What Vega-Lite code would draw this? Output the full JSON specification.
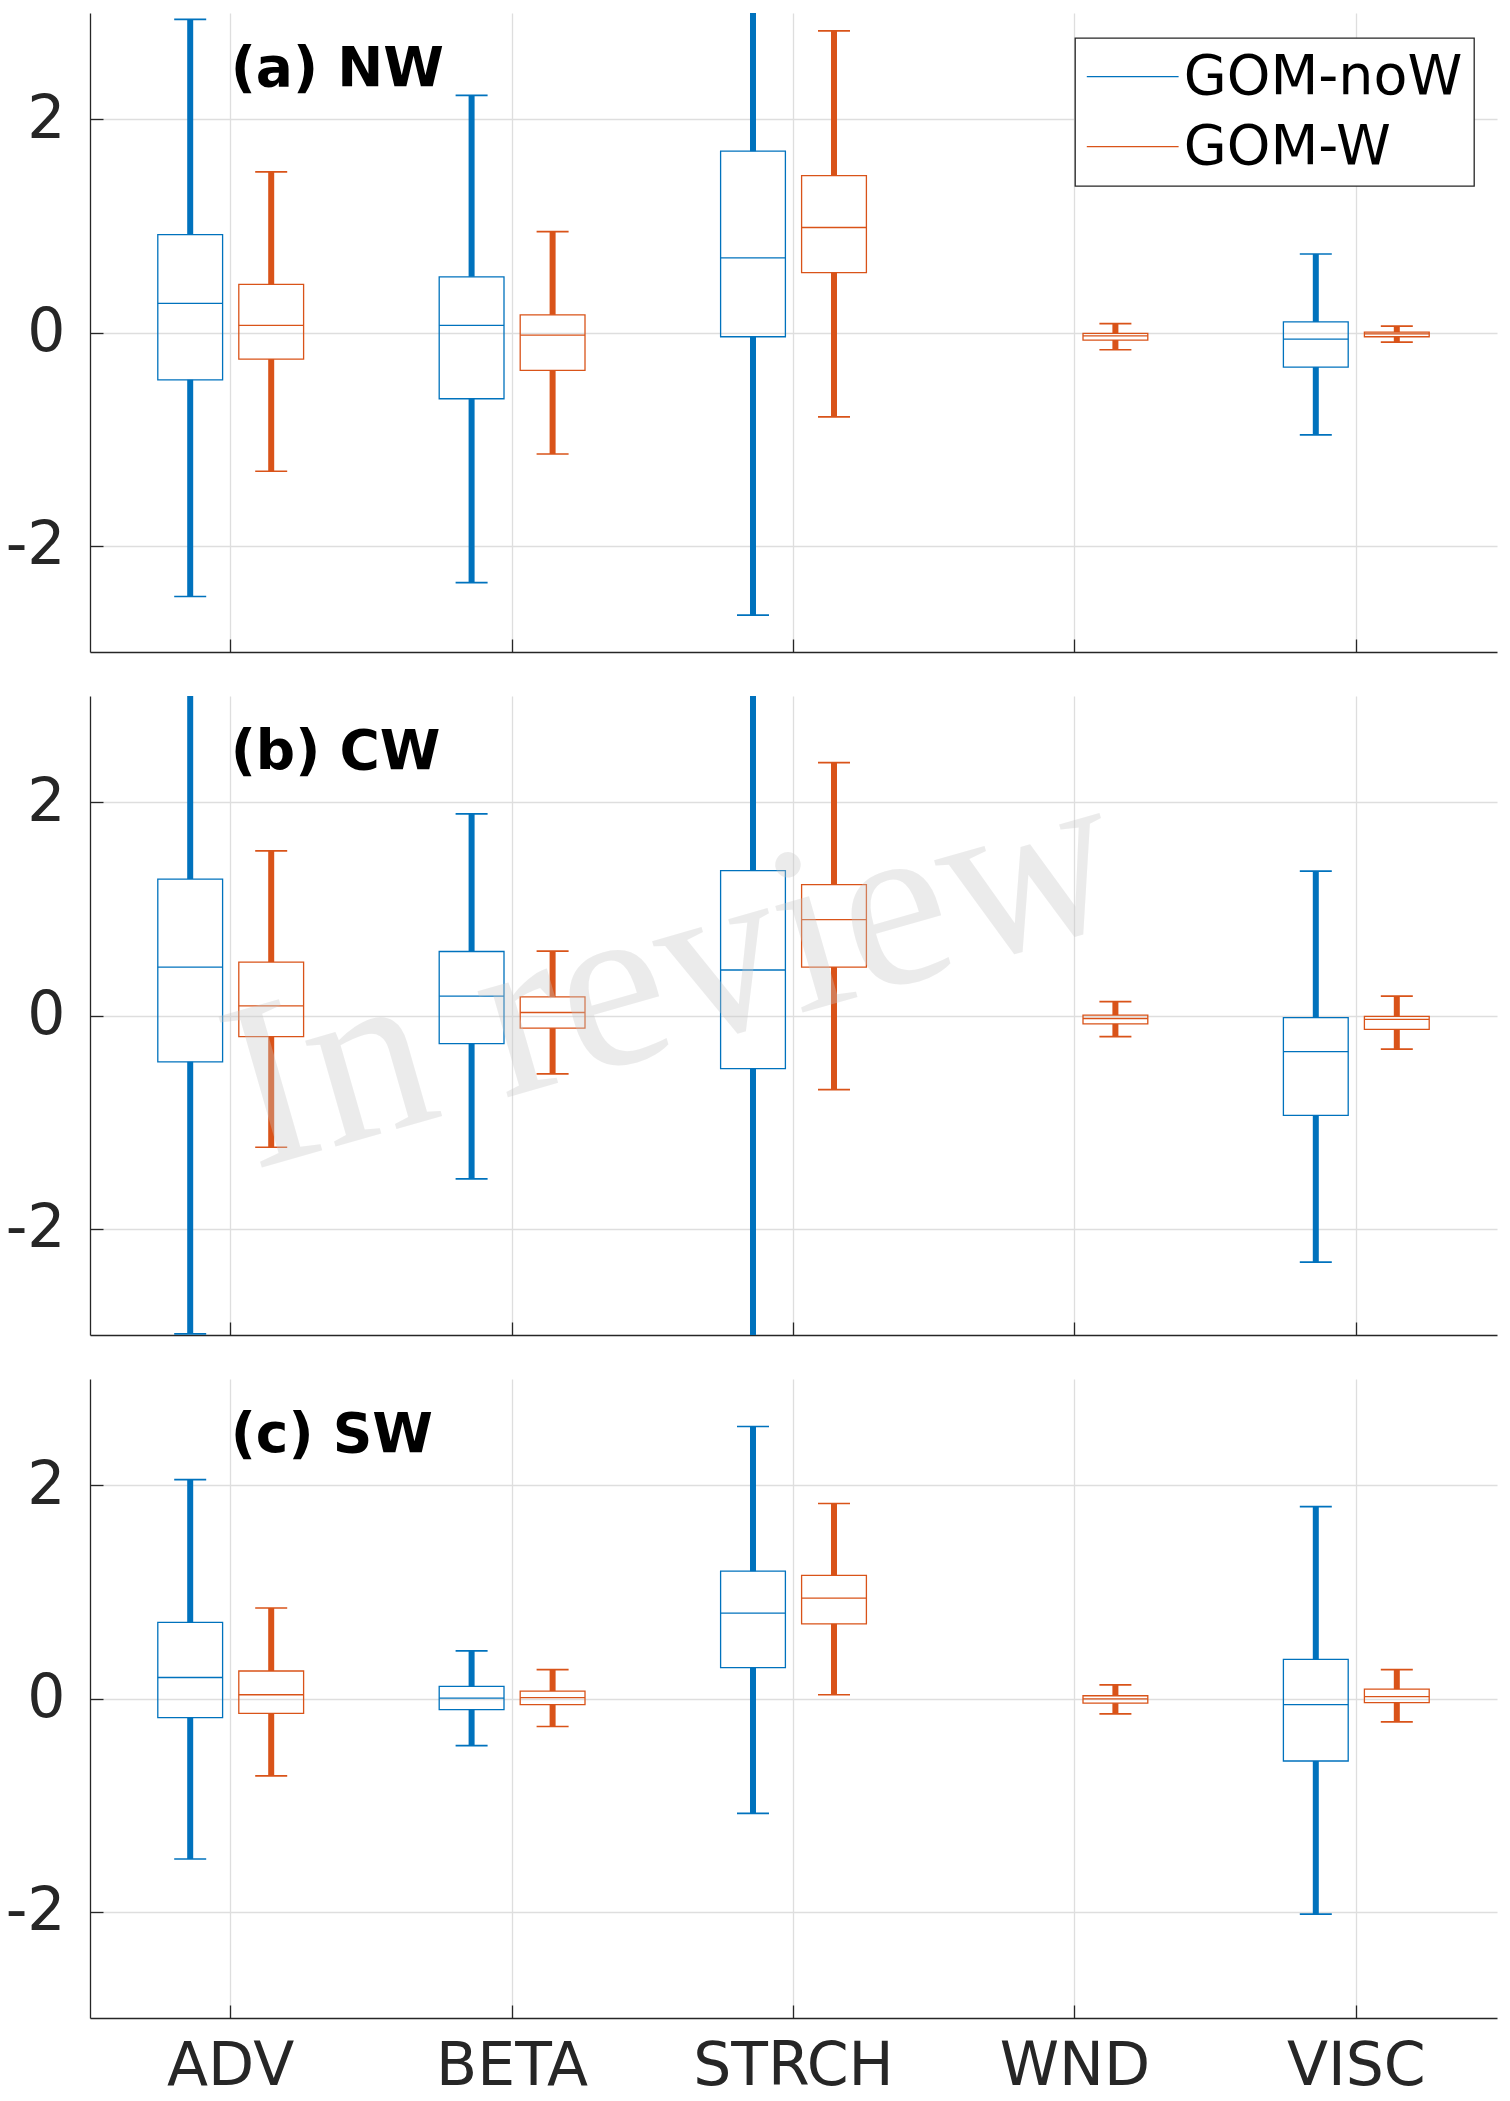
{
  "$schema": "https://vega.github.io/schema/vega-lite/v6.json",
  "padding": {"left": 0, "top": 13, "right": 5, "bottom": 3},
  "background": "white",
  "config": {
    "font": "DejaVu Sans",
    "view": {"stroke": null},
    "axis": {
      "domainColor": "#262626",
      "domainWidth": 1.3,
      "tickColor": "#262626",
      "tickWidth": 1.3,
      "tickSize": -13,
      "labelColor": "#262626",
      "labelFontSize": 60,
      "labelFont": "DejaVu Sans",
      "labelLimit": 0,
      "gridColor": "#dedede",
      "gridWidth": 1.3,
      "title": null
    },
    "axisY": {"minExtent": 90, "maxExtent": 90, "labelPadding": 38, "labelExpr": "datum.value + ''"},
    "axisX": {"labelPadding": 32, "minExtent": 0}
  },
  "data": {
    "values": [
      {"panel": "NW", "term": "ADV", "model": "GOM-noW", "lo": -2.479, "q1": -0.444, "med": 0.273, "q3": 0.919, "hi": 2.94},
      {"panel": "NW", "term": "ADV", "model": "GOM-W", "lo": -1.303, "q1": -0.25, "med": 0.067, "q3": 0.451, "hi": 1.509},
      {"panel": "NW", "term": "BETA", "model": "GOM-noW", "lo": -2.349, "q1": -0.622, "med": 0.067, "q3": 0.523, "hi": 2.226},
      {"panel": "NW", "term": "BETA", "model": "GOM-W", "lo": -1.141, "q1": -0.356, "med": -0.024, "q3": 0.166, "hi": 0.947},
      {"panel": "NW", "term": "STRCH", "model": "GOM-noW", "lo": -2.653, "q1": -0.04, "med": 0.701, "q3": 1.703, "hi": 3.6},
      {"panel": "NW", "term": "STRCH", "model": "GOM-W", "lo": -0.792, "q1": 0.562, "med": 0.986, "q3": 1.473, "hi": 2.832},
      {"panel": "NW", "term": "WND", "model": "GOM-W", "lo": -0.162, "q1": -0.071, "med": -0.032, "q3": -0.008, "hi": 0.083},
      {"panel": "NW", "term": "VISC", "model": "GOM-noW", "lo": -0.962, "q1": -0.325, "med": -0.063, "q3": 0.099, "hi": 0.737},
      {"panel": "NW", "term": "VISC", "model": "GOM-W", "lo": -0.091, "q1": -0.04, "med": -0.012, "q3": 0.004, "hi": 0.059},
      {"panel": "CW", "term": "ADV", "model": "GOM-noW", "lo": -2.99, "q1": -0.435, "med": 0.455, "q3": 1.281, "hi": 3.6},
      {"panel": "CW", "term": "ADV", "model": "GOM-W", "lo": -1.237, "q1": -0.198, "med": 0.091, "q3": 0.502, "hi": 1.545},
      {"panel": "CW", "term": "BETA", "model": "GOM-noW", "lo": -1.534, "q1": -0.265, "med": 0.182, "q3": 0.601, "hi": 1.893},
      {"panel": "CW", "term": "BETA", "model": "GOM-W", "lo": -0.549, "q1": -0.119, "med": 0.028, "q3": 0.174, "hi": 0.605},
      {"panel": "CW", "term": "STRCH", "model": "GOM-noW", "lo": -3.6, "q1": -0.498, "med": 0.427, "q3": 1.36, "hi": 3.6},
      {"panel": "CW", "term": "STRCH", "model": "GOM-W", "lo": -0.696, "q1": 0.455, "med": 0.901, "q3": 1.229, "hi": 2.375},
      {"panel": "CW", "term": "WND", "model": "GOM-W", "lo": -0.198, "q1": -0.079, "med": -0.028, "q3": 0.004, "hi": 0.13},
      {"panel": "CW", "term": "VISC", "model": "GOM-noW", "lo": -2.316, "q1": -0.937, "med": -0.34, "q3": -0.02, "hi": 1.356},
      {"panel": "CW", "term": "VISC", "model": "GOM-W", "lo": -0.316, "q1": -0.13, "med": -0.036, "q3": -0.008, "hi": 0.182},
      {"panel": "SW", "term": "ADV", "model": "GOM-noW", "lo": -1.507, "q1": -0.18, "med": 0.197, "q3": 0.714, "hi": 2.055},
      {"panel": "SW", "term": "ADV", "model": "GOM-W", "lo": -0.727, "q1": -0.14, "med": 0.035, "q3": 0.258, "hi": 0.85},
      {"panel": "SW", "term": "BETA", "model": "GOM-noW", "lo": -0.443, "q1": -0.105, "med": 0.004, "q3": 0.114, "hi": 0.447},
      {"panel": "SW", "term": "BETA", "model": "GOM-W", "lo": -0.263, "q1": -0.057, "med": 0.009, "q3": 0.07, "hi": 0.272},
      {"panel": "SW", "term": "STRCH", "model": "GOM-noW", "lo": -1.078, "q1": 0.289, "med": 0.802, "q3": 1.196, "hi": 2.554},
      {"panel": "SW", "term": "STRCH", "model": "GOM-W", "lo": 0.035, "q1": 0.701, "med": 0.942, "q3": 1.157, "hi": 1.831},
      {"panel": "SW", "term": "WND", "model": "GOM-W", "lo": -0.145, "q1": -0.044, "med": -0.004, "q3": 0.026, "hi": 0.127},
      {"panel": "SW", "term": "VISC", "model": "GOM-noW", "lo": -2.024, "q1": -0.587, "med": -0.057, "q3": 0.368, "hi": 1.801},
      {"panel": "SW", "term": "VISC", "model": "GOM-W", "lo": -0.219, "q1": -0.039, "med": 0.018, "q3": 0.088, "hi": 0.272}
    ]
  },
  "spacing": 43,
  "resolve": {"scale": {"color": "shared"}, "legend": {"color": "shared"}},
  "vconcat": [
    {
      "width": 1407,
      "height": 639,
      "layer": [
        {
          "transform": [{"filter": "datum.panel === 'NW'"}],
          "encoding": {
            "x": {"field": "term", "type": "nominal", "scale": {"domain": ["ADV", "BETA", "STRCH", "WND", "VISC"], "paddingInner": 0, "paddingOuter": 0}, "axis": {"title": null, "labels": false, "grid": true}},
            "xOffset": {"field": "model", "type": "nominal", "scale": {"domain": ["GOM-noW", "GOM-W"], "paddingInner": 0.2, "paddingOuter": 0.837}},
            "color": {"field": "model", "type": "nominal", "scale": {"domain": ["GOM-noW", "GOM-W"], "range": ["#0072BD", "#D95319"]},
              "legend": {"orient": "none", "legendX": 985, "legendY": 25, "title": null, "symbolType": "M-1.7,0H1.7", "symbolSize": 2916, "symbolOffset": 19, "symbolStrokeWidth": 1.3, "symbolFillColor": "transparent", "labelFontSize": 55.5, "labelColor": "black", "labelFont": "DejaVu Sans", "labelOffset": 23, "rowPadding": 13, "padding": 10.7, "strokeColor": "#262626", "fillColor": "white", "labelLimit": 0, "encode": {"legend": {"update": {"strokeWidth": {"value": 1.3}}}}}}
          },
          "layer": [
            {"mark": {"type": "rule", "strokeWidth": 6, "clip": true}, "encoding": {"y": {"field": "lo", "type": "quantitative", "scale": {"domain": [-3, 3], "nice": false, "zero": false}, "axis": {"title": null, "values": [-2, 0, 2], "grid": true}}, "y2": {"field": "q1"}}},
            {"mark": {"type": "rule", "strokeWidth": 6, "clip": true}, "encoding": {"y": {"field": "q3", "type": "quantitative"}, "y2": {"field": "hi"}}},
            {"mark": {"type": "bar", "filled": false, "strokeWidth": 1.3, "clip": true}, "encoding": {"y": {"field": "q1", "type": "quantitative"}, "y2": {"field": "q3"}}},
            {"mark": {"type": "tick", "thickness": 1.3, "size": 64.8, "opacity": 1, "clip": true}, "encoding": {"y": {"field": "med", "type": "quantitative"}}},
            {"mark": {"type": "tick", "thickness": 1.7, "size": 32, "opacity": 1, "clip": true}, "encoding": {"y": {"field": "lo", "type": "quantitative"}}},
            {"mark": {"type": "tick", "thickness": 1.7, "size": 32, "opacity": 1, "clip": true}, "encoding": {"y": {"field": "hi", "type": "quantitative"}}}
          ]
        },
        {
          "data": {"values": [{"label": "(a) NW"}]},
          "mark": {"type": "text", "align": "left", "baseline": "alphabetic", "fontSize": 55, "fontWeight": "bold", "color": "black"},
          "encoding": {"x": {"datum": "ADV", "bandPosition": 0.5}, "y": {"datum": 2.31}, "text": {"field": "label"}}
        }
      ]
    },
    {
      "width": 1407,
      "height": 639,
      "layer": [
        {
          "transform": [{"filter": "datum.panel === 'CW'"}],
          "encoding": {
            "x": {"field": "term", "type": "nominal", "scale": {"domain": ["ADV", "BETA", "STRCH", "WND", "VISC"], "paddingInner": 0, "paddingOuter": 0}, "axis": {"title": null, "labels": false, "grid": true}},
            "xOffset": {"field": "model", "type": "nominal", "scale": {"domain": ["GOM-noW", "GOM-W"], "paddingInner": 0.2, "paddingOuter": 0.837}},
            "color": {"field": "model", "type": "nominal", "scale": {"domain": ["GOM-noW", "GOM-W"], "range": ["#0072BD", "#D95319"]}}
          },
          "layer": [
            {"mark": {"type": "rule", "strokeWidth": 6, "clip": true}, "encoding": {"y": {"field": "lo", "type": "quantitative", "scale": {"domain": [-3, 3], "nice": false, "zero": false}, "axis": {"title": null, "values": [-2, 0, 2], "grid": true}}, "y2": {"field": "q1"}}},
            {"mark": {"type": "rule", "strokeWidth": 6, "clip": true}, "encoding": {"y": {"field": "q3", "type": "quantitative"}, "y2": {"field": "hi"}}},
            {"mark": {"type": "bar", "filled": false, "strokeWidth": 1.3, "clip": true}, "encoding": {"y": {"field": "q1", "type": "quantitative"}, "y2": {"field": "q3"}}},
            {"mark": {"type": "tick", "thickness": 1.3, "size": 64.8, "opacity": 1, "clip": true}, "encoding": {"y": {"field": "med", "type": "quantitative"}}},
            {"mark": {"type": "tick", "thickness": 1.7, "size": 32, "opacity": 1, "clip": true}, "encoding": {"y": {"field": "lo", "type": "quantitative"}}},
            {"mark": {"type": "tick", "thickness": 1.7, "size": 32, "opacity": 1, "clip": true}, "encoding": {"y": {"field": "hi", "type": "quantitative"}}}
          ]
        },
        {
          "data": {"values": [{"label": "(b) CW"}]},
          "mark": {"type": "text", "align": "left", "baseline": "alphabetic", "fontSize": 55, "fontWeight": "bold", "color": "black"},
          "encoding": {"x": {"datum": "ADV", "bandPosition": 0.5}, "y": {"datum": 2.31}, "text": {"field": "label"}}
        },
        {
          "data": {"values": [{"label": "In review"}]},
          "mark": {"type": "text", "align": "center", "baseline": "alphabetic", "font": "Liberation Serif", "fontSize": 240, "angle": -16, "color": "#c8c8c8", "opacity": 0.35},
          "encoding": {"x": {"datum": "STRCH", "bandPosition": 0.14}, "y": {"datum": -0.27}, "text": {"field": "label"}}
        }
      ]
    },
    {
      "width": 1407,
      "height": 639,
      "layer": [
        {
          "transform": [{"filter": "datum.panel === 'SW'"}],
          "encoding": {
            "x": {"field": "term", "type": "nominal", "scale": {"domain": ["ADV", "BETA", "STRCH", "WND", "VISC"], "paddingInner": 0, "paddingOuter": 0}, "axis": {"title": null, "labels": true, "labelAngle": 0, "labelLimit": 0, "grid": true}},
            "xOffset": {"field": "model", "type": "nominal", "scale": {"domain": ["GOM-noW", "GOM-W"], "paddingInner": 0.2, "paddingOuter": 0.837}},
            "color": {"field": "model", "type": "nominal", "scale": {"domain": ["GOM-noW", "GOM-W"], "range": ["#0072BD", "#D95319"]}}
          },
          "layer": [
            {"mark": {"type": "rule", "strokeWidth": 6, "clip": true}, "encoding": {"y": {"field": "lo", "type": "quantitative", "scale": {"domain": [-3, 3], "nice": false, "zero": false}, "axis": {"title": null, "values": [-2, 0, 2], "grid": true}}, "y2": {"field": "q1"}}},
            {"mark": {"type": "rule", "strokeWidth": 6, "clip": true}, "encoding": {"y": {"field": "q3", "type": "quantitative"}, "y2": {"field": "hi"}}},
            {"mark": {"type": "bar", "filled": false, "strokeWidth": 1.3, "clip": true}, "encoding": {"y": {"field": "q1", "type": "quantitative"}, "y2": {"field": "q3"}}},
            {"mark": {"type": "tick", "thickness": 1.3, "size": 64.8, "opacity": 1, "clip": true}, "encoding": {"y": {"field": "med", "type": "quantitative"}}},
            {"mark": {"type": "tick", "thickness": 1.7, "size": 32, "opacity": 1, "clip": true}, "encoding": {"y": {"field": "lo", "type": "quantitative"}}},
            {"mark": {"type": "tick", "thickness": 1.7, "size": 32, "opacity": 1, "clip": true}, "encoding": {"y": {"field": "hi", "type": "quantitative"}}}
          ]
        },
        {
          "data": {"values": [{"label": "(c) SW"}]},
          "mark": {"type": "text", "align": "left", "baseline": "alphabetic", "fontSize": 55, "fontWeight": "bold", "color": "black"},
          "encoding": {"x": {"datum": "ADV", "bandPosition": 0.5}, "y": {"datum": 2.31}, "text": {"field": "label"}}
        }
      ]
    }
  ]
}
